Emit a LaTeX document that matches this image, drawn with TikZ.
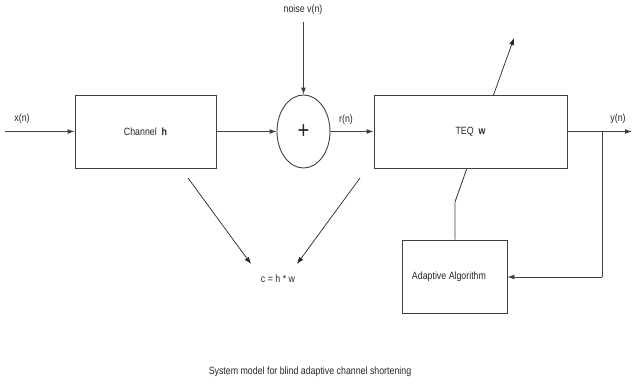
\documentclass[tikz,border=0pt]{standalone}
\usepackage{fontspec}
\setmainfont{Liberation Sans}[FakeStretch=0.84]
\usetikzlibrary{shapes.geometric,arrows.meta}
\begin{document}
\begin{tikzpicture}[x=1pt,y=-1pt,
  every node/.style={font=\fontsize{10.5}{12}\selectfont, text=black!85},
  blk/.style={draw=black!75, line width=0.9pt, rectangle, minimum height=73pt, inner sep=0pt},
  wire/.style={draw=black!75, line width=0.9pt},
  arr/.style={wire, -{Latex[length=7pt,width=5pt]}},
  thin arr/.style={draw=black!85, line width=0.7pt, -{Latex[length=7pt,width=5pt]}}]
\useasboundingbox (0,0) rectangle (632,383);
% blocks
\node[blk, minimum width=141pt] (chan) at (145.5,131.5) {Channel\ \ \textbf{h}};
\node[draw=black!75, line width=0.9pt, ellipse, minimum width=53pt, minimum height=73pt, inner sep=0pt] (sum) at (303.5,131.5) {\fontsize{24}{24}\selectfont +};
\node[blk, minimum width=193pt] (teq) at (470.5,131.5) {TEQ\ \ \textbf{w}};
\node[blk, minimum width=105pt] (adapt) at (454.5,276.5) {};
\node (adtext) at (449,277) {Adaptive Algorithm};
% labels
\node (xl) at (22,119) {x(n)};
\node (nl) at (303,10) {noise v(n)};
\node (rl) at (346,120) {r(n)};
\node (yl) at (618,119) {y(n)};
\node (cl) at (278,279) {c = h * w};
\node (cap) at (310,372) {System model for blind adaptive channel shortening};
% coordinates
\coordinate (in) at (5,131.5);
\coordinate (out) at (632,131.5);
\coordinate (ntop) at (303.5,22);
\coordinate (tap) at (602,131.5);
\coordinate (corner) at (602,277);
\coordinate (k1) at (455,202);
\coordinate (k2) at (467,168);
\coordinate (k3) at (493.5,95);
\coordinate (k4) at (514,38);
\coordinate (d1s) at (188,178);
\coordinate (d1e) at (251,264);
\coordinate (d2s) at (360,178);
\coordinate (d2e) at (297,264);
% connectors
\draw[arr] (in) -- (chan.west);
\draw[arr] (chan.east) -- (sum.west);
\draw[arr] (ntop) -- (sum.north);
\draw[arr] (sum.east) -- (teq.west);
\draw[arr] (teq.east) -- (out);
\draw[wire] (tap) -- (corner);
\draw[arr] (corner) -- (adapt.east |- corner);
\draw[wire] (adapt.north -| k1) -- (k1) -- (k2);
\draw[thin arr] (k3) -- (k4);
\draw[thin arr] (d1s) -- (d1e);
\draw[thin arr] (d2s) -- (d2e);
\end{tikzpicture}
\end{document}
